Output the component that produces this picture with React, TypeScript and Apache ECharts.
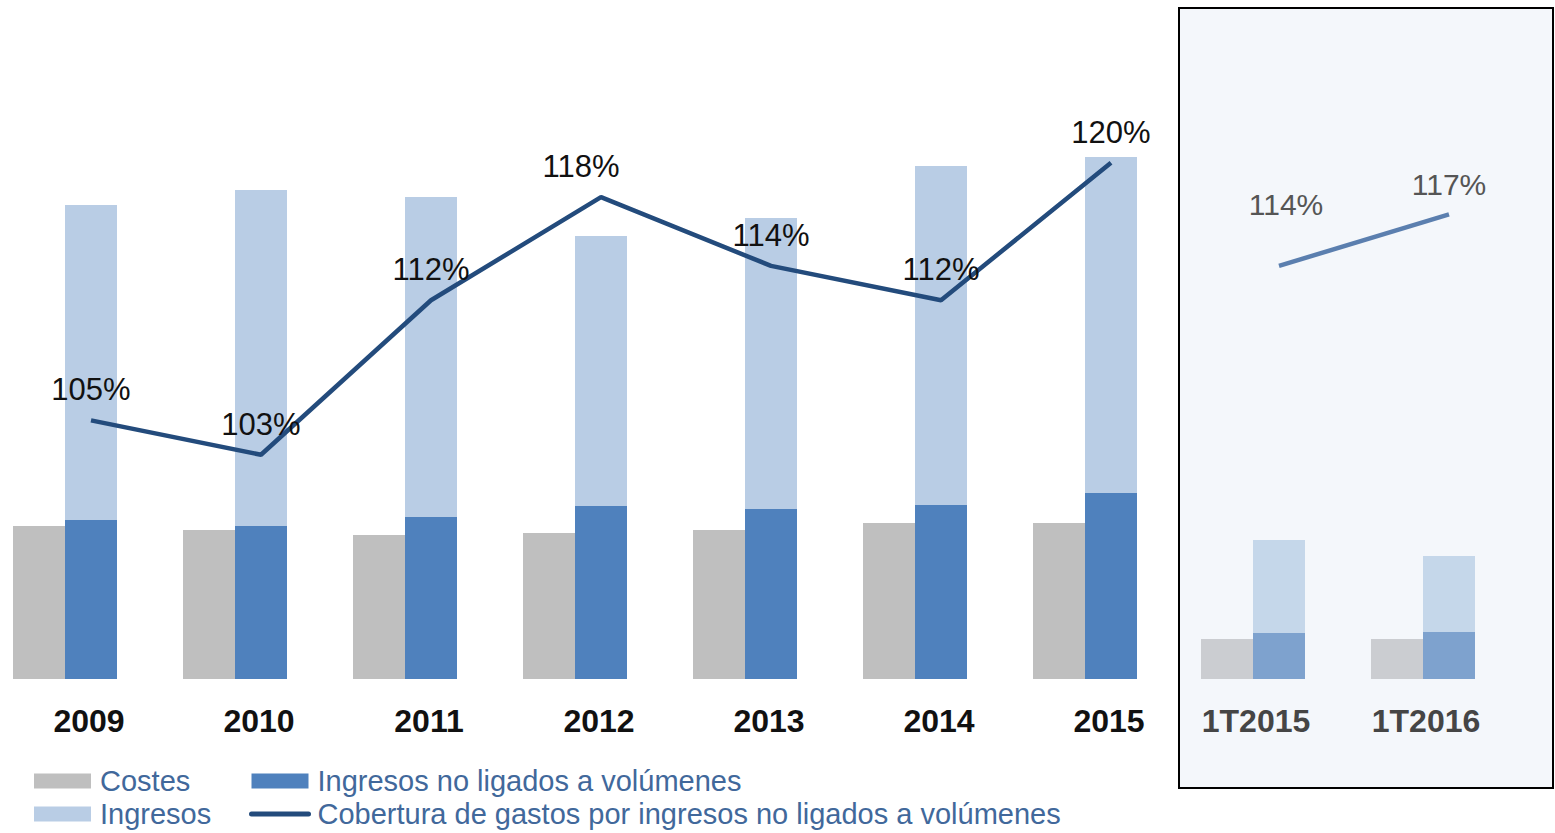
import React, { useEffect, useRef } from "react";
import * as echarts from "echarts";

const years = ["2009", "2010", "2011", "2012", "2013", "2014", "2015"];
const costes = [153, 149, 144, 146, 149, 156, 156];
const ingresosNoLigados = [159, 153, 162, 173, 170, 174, 186];
const ingresos = [474, 489, 482, 443, 461, 513, 522];
const cobertura = [105, 103, 112, 118, 114, 112, 120];

const quarters = ["1T2015", "1T2016"];
const costesQ = [40, 40];
const ingresosNoLigadosQ = [46, 47];
const ingresosQ = [139, 123];
const coberturaQ = [114, 117];

const FONT = "'Liberation Sans', Arial, sans-serif";

export default function App() {
  const ref = useRef<HTMLDivElement>(null);

  useEffect(() => {
    if (!ref.current) return;
    const chart = echarts.init(ref.current, null, { renderer: "svg" });

    const blank = (n: number) => new Array(n).fill("-");
    const lineLabelOffsets: Record<number, number[]> = { 3: [-20, 0] };
    const lineLabelOffsetsQ: Record<number, number[]> = { 0: [7, -31] };

    const legendText = {
      fontFamily: FONT,
      fontSize: 29,
      lineHeight: 30,
      color: "#41689B",
      padding: [0, 0, 0, 4],
    };

    const mkLine = (vals: number[], offsets: Record<number, number[]>) =>
      vals.map((v, i) =>
        offsets[i] ? { value: v, label: { offset: offsets[i] } } : { value: v }
      );

    const option: any = {
      animation: false,
      textStyle: { fontFamily: FONT },
      graphic: [
        {
          type: "rect",
          z: -10,
          shape: { x: 1179, y: 8, width: 374, height: 780 },
          style: { fill: "#F4F7FB", stroke: "#000", lineWidth: 2 },
        },
      ],
      legend: [
        {
          left: 34,
          top: 766,
          padding: 0,
          orient: "vertical",
          itemWidth: 57,
          itemHeight: 15,
          itemGap: 3,
          data: [
            { name: "Costes", icon: "rect" },
            { name: "Ingresos", icon: "rect" },
          ],
          textStyle: legendText,
        },
        {
          left: 249,
          top: 766,
          padding: 0,
          orient: "vertical",
          itemWidth: 57,
          itemHeight: 15,
          itemGap: 3,
          data: [
            { name: "Ingresos no ligados a volúmenes", icon: "rect" },
            { name: "Cobertura de gastos por ingresos no ligados a volúmenes" },
          ],
          lineStyle: { width: 5, cap: "round" },
          textStyle: legendText,
        },
      ],
      grid: [
        { left: 6, top: 100, width: 1190, height: 579 },
        { left: 1194, top: 100, width: 340, height: 579 },
      ],
      xAxis: [
        {
          type: "category",
          gridIndex: 0,
          data: years,
          axisLine: { show: false },
          axisTick: { show: false },
          axisLabel: {
            margin: 26,
            fontFamily: FONT,
            fontSize: 32,
            fontWeight: "bold",
            color: "#111",
            padding: [0, 4, 0, 0],
          },
        },
        {
          type: "category",
          gridIndex: 1,
          data: quarters,
          axisLine: { show: false },
          axisTick: { show: false },
          axisLabel: {
            margin: 26,
            fontFamily: FONT,
            fontSize: 32,
            fontWeight: "bold",
            color: "#454545",
            padding: [0, 46, 0, 0],
          },
        },
      ],
      yAxis: [
        { type: "value", gridIndex: 0, min: 0, max: 579, show: false },
        { type: "value", gridIndex: 0, min: 89.94, max: 123.66, show: false },
        { type: "value", gridIndex: 1, min: 0, max: 579, show: false },
        { type: "value", gridIndex: 1, min: 89.94, max: 123.66, show: false },
      ],
      series: [
        {
          name: "Costes",
          type: "bar",
          xAxisIndex: 0,
          yAxisIndex: 0,
          barWidth: 52,
          data: costes,
          itemStyle: { color: "#BFBFBF" },
        },
        {
          name: "Ingresos no ligados a volúmenes",
          type: "bar",
          xAxisIndex: 0,
          yAxisIndex: 0,
          stack: "ing",
          barWidth: 52,
          data: ingresosNoLigados,
          itemStyle: { color: "#4F81BD" },
        },
        {
          name: "Ingresos",
          type: "bar",
          xAxisIndex: 0,
          yAxisIndex: 0,
          stack: "ing",
          barWidth: 52,
          data: ingresos.map((v, i) => v - ingresosNoLigados[i]),
          itemStyle: { color: "#B9CDE5" },
        },
        {
          type: "bar",
          xAxisIndex: 0,
          yAxisIndex: 0,
          barWidth: 52,
          barGap: 0,
          data: blank(years.length),
          silent: true,
        },
        {
          name: "Cobertura de gastos por ingresos no ligados a volúmenes",
          type: "line",
          xAxisIndex: 0,
          yAxisIndex: 1,
          symbol: "circle",
          symbolSize: 2,
          showSymbol: true,
          z: 5,
          lineStyle: { color: "#234B7C", width: 4.5 },
          itemStyle: { color: "#234B7C", opacity: 0 },
          data: mkLine(cobertura, lineLabelOffsets),
          label: {
            show: true,
            position: "top",
            distance: 14,
            fontFamily: FONT,
            fontSize: 31,
            color: "#111",
            opacity: 1,
            formatter: (p: any) => p.value + "%",
          },
        },
        {
          name: "Costes 1T",
          type: "bar",
          xAxisIndex: 1,
          yAxisIndex: 2,
          barWidth: 52,
          data: costesQ,
          itemStyle: { color: "#CBCDD1" },
        },
        {
          name: "Ingresos no ligados 1T",
          type: "bar",
          xAxisIndex: 1,
          yAxisIndex: 2,
          stack: "ingQ",
          barWidth: 52,
          data: ingresosNoLigadosQ,
          itemStyle: { color: "#7EA2CE" },
        },
        {
          name: "Ingresos 1T",
          type: "bar",
          xAxisIndex: 1,
          yAxisIndex: 2,
          stack: "ingQ",
          barWidth: 52,
          data: ingresosQ.map((v, i) => v - ingresosNoLigadosQ[i]),
          itemStyle: { color: "#C5D7EA" },
        },
        {
          type: "bar",
          xAxisIndex: 1,
          yAxisIndex: 2,
          barWidth: 52,
          barGap: 0,
          data: blank(quarters.length),
          silent: true,
        },
        {
          name: "Cobertura 1T",
          type: "line",
          xAxisIndex: 1,
          yAxisIndex: 3,
          symbol: "circle",
          symbolSize: 2,
          showSymbol: true,
          z: 5,
          lineStyle: { color: "#5B7FAF", width: 4.5 },
          itemStyle: { color: "#5B7FAF", opacity: 0 },
          data: mkLine(coberturaQ, lineLabelOffsetsQ),
          label: {
            show: true,
            position: "top",
            distance: 14,
            fontFamily: FONT,
            fontSize: 30,
            color: "#555",
            opacity: 1,
            formatter: (p: any) => p.value + "%",
          },
        },
      ],
    };

    chart.setOption(option);
    return () => chart.dispose();
  }, []);

  return (
    <div
      ref={ref}
      style={{ position: "absolute", left: 0, top: 0, width: 1555, height: 833 }}
    />
  );
}
